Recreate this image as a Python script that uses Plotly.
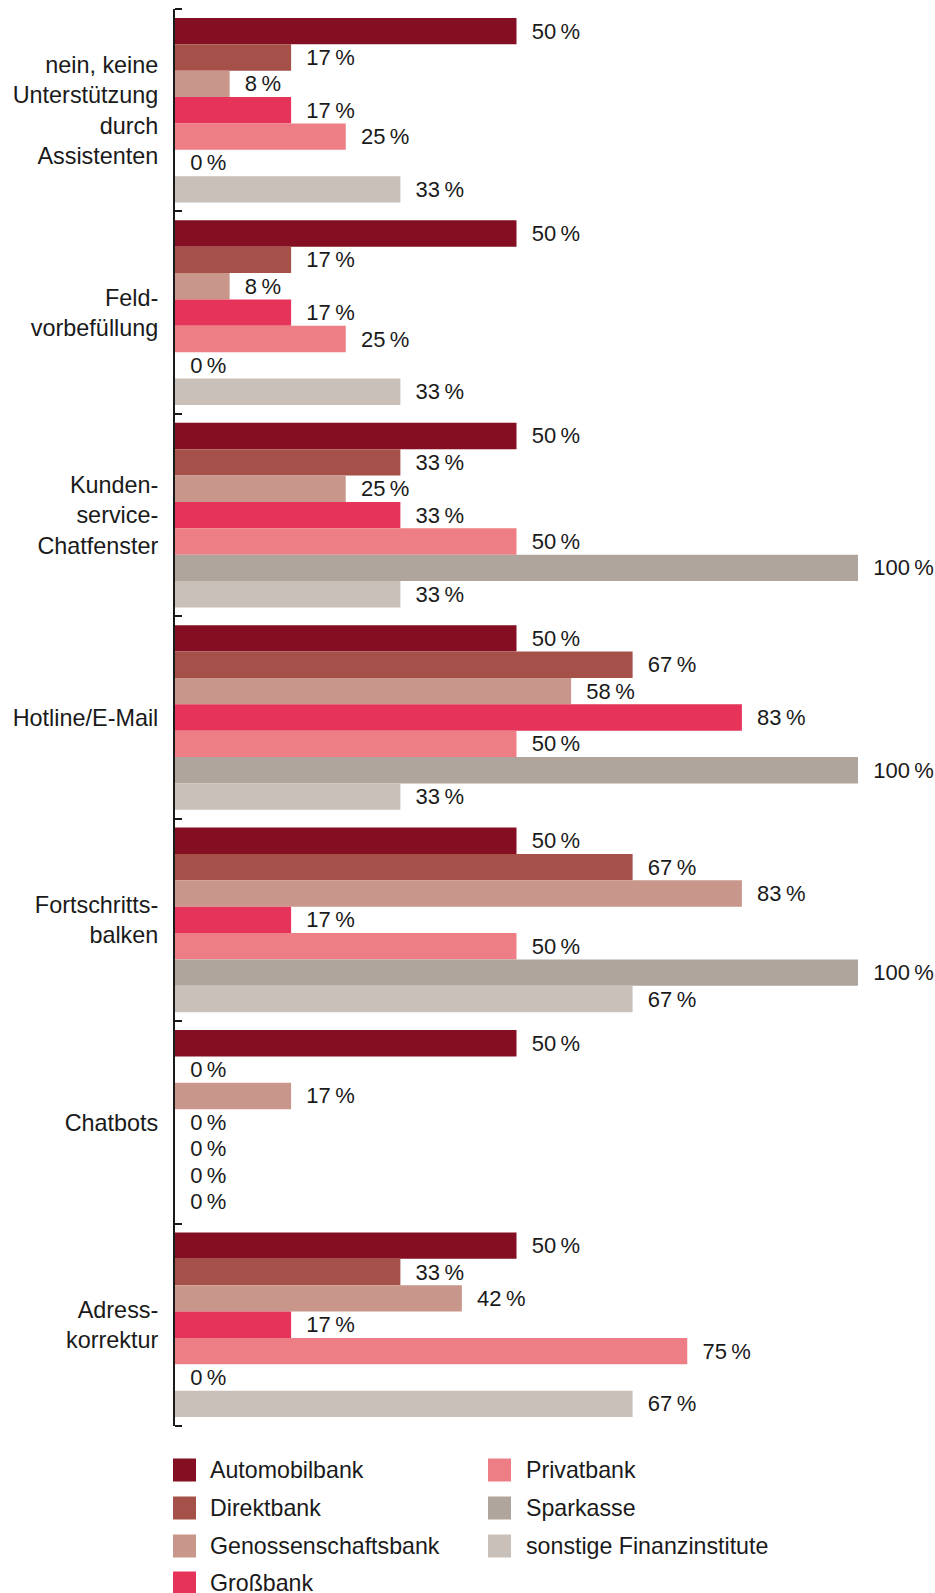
import plotly.graph_objects as go

# Survey categories (top to bottom) and values per bank type, in percent
categories = [
    "nein, keine<br>Unterstützung<br>durch<br>Assistenten",
    "Feld-<br>vorbefüllung",
    "Kunden-<br>service-<br>Chatfenster",
    "Hotline/E-Mail",
    "Fortschritts-<br>balken",
    "Chatbots",
    "Adress-<br>korrektur",
]

automobilbank = [50, 50, 50, 50, 50, 50, 50]
direktbank = [17, 17, 33, 67, 67, 0, 33]
genossenschaftsbank = [8, 8, 25, 58, 83, 17, 42]
grossbank = [17, 17, 33, 83, 17, 0, 17]
privatbank = [25, 25, 50, 50, 50, 0, 75]
sparkasse = [0, 0, 100, 100, 100, 0, 0]
sonstige = [33, 33, 33, 33, 67, 0, 67]

series_names = [
    "Automobilbank", "Direktbank", "Genossenschaftsbank", "Großbank",
    "Privatbank", "Sparkasse", "sonstige Finanzinstitute",
]
series_values = [automobilbank, direktbank, genossenschaftsbank, grossbank,
                 privatbank, sparkasse, sonstige]
series_colors = ["#840E22", "#A6504A", "#C9968C", "#E5335A",
                 "#ED7E85", "#B0A59D", "#C9C0BA"]

FONT = "Liberation Sans, Arial, sans-serif"
TEXT_COLOR = "#1a1a1a"
LABEL_SIZE = 23.4
LEGEND_SIZE = 23.2

W, H = 935, 1593
ML, MR, MT, MB = 175, 77, 9, 167
PW, PH = W - ML - MR, H - MT - MB

fig = go.Figure()
for name, vals, col in zip(series_names, series_values, series_colors):
    fig.add_trace(go.Bar(
        y=categories, x=vals, name=name, orientation="h",
        marker=dict(color=col, line=dict(width=0)),
        texttemplate="\u00a0\u00a0%{x}\u2009%",
        textposition="outside",
        constraintext="none",
        cliponaxis=False,
        textfont=dict(family=FONT, size=22, color=TEXT_COLOR),
        showlegend=False,
        hoverinfo="skip",
    ))

# Legend drawn as two columns of swatches with labels
def px_to_paper(xp, yp):
    return (xp - ML) / PW, (H - MB - yp) / PH

col_x = [173, 488]
text_x = [208, 524]
row_y = [1470, 1508, 1546, 1583]
sw = 23
for i, (name, col) in enumerate(zip(series_names, series_colors)):
    c = 0 if i < 4 else 1
    r = i if i < 4 else i - 4
    x0, y0 = px_to_paper(col_x[c], row_y[r] + sw / 2)
    x1, y1 = px_to_paper(col_x[c] + sw, row_y[r] - sw / 2)
    fig.add_shape(type="rect", xref="paper", yref="paper",
                  x0=x0, x1=x1, y0=y0, y1=y1,
                  fillcolor=col, line=dict(width=0))
    tx, ty = px_to_paper(text_x[c], row_y[r])
    fig.add_annotation(xref="paper", yref="paper", x=tx, y=ty,
                       text=name, showarrow=False,
                       xanchor="left", yanchor="middle",
                       font=dict(family=FONT, size=LEGEND_SIZE, color=TEXT_COLOR))

# Closing ticks at both ends of the category axis
for yy in (0, 1):
    fig.add_shape(type="line", xref="paper", yref="paper",
                  x0=0, x1=7 / PW, y0=yy, y1=yy,
                  line=dict(color=TEXT_COLOR, width=2))

fig.update_layout(
    width=W, height=H,
    margin=dict(l=ML, r=MR, t=MT, b=MB),
    barmode="group", bargap=0.088, bargroupgap=0,
    plot_bgcolor="white", paper_bgcolor="white",
    font=dict(family=FONT, size=LABEL_SIZE, color=TEXT_COLOR),
)
fig.update_xaxes(range=[0, 100], visible=False, fixedrange=True)
fig.update_yaxes(
    autorange="reversed", type="category",
    showline=True, linecolor=TEXT_COLOR, linewidth=2,
    ticks="inside", ticklen=7, tickwidth=2, tickcolor=TEXT_COLOR,
    tickson="boundaries", ticklabelstandoff=10,
    showgrid=False, zeroline=False,
    tickfont=dict(family=FONT, size=LABEL_SIZE, color=TEXT_COLOR),
)

fig.write_html("out.html")
